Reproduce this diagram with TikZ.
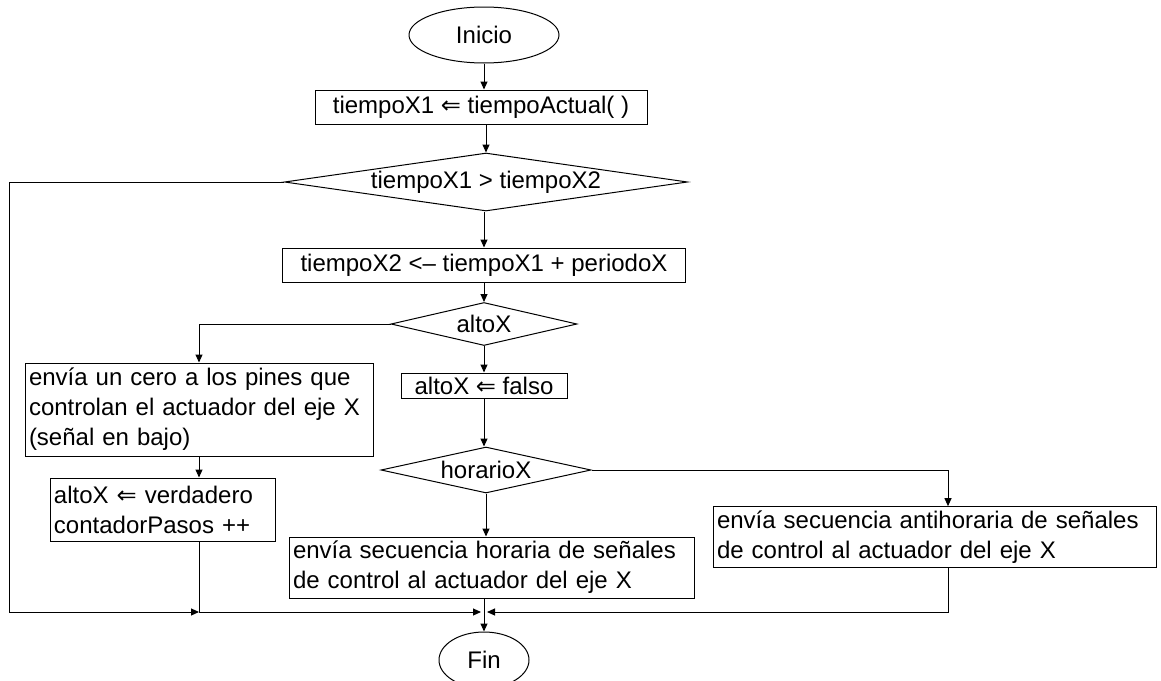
\documentclass[tikz,border=0pt]{standalone}
\usepackage{fontspec}
\setmainfont{Liberation Sans}
\newfontfamily\arrowfont{DejaVu Sans}
\newcommand{\asig}{{\arrowfont ⇐}}
\usetikzlibrary{arrows.meta,shapes.geometric,calc}
\tikzset{>={Triangle[length=4pt,width=3.5pt]},
  base/.style = {
    draw=black, line width=0.5pt, inner sep=2pt,
    font=\fontsize{12}{15}\selectfont
  },
  proc/.style = {base, rectangle},
  decision/.style = {base, diamond, inner sep=0pt},
  terminal/.style = {base, ellipse, inner sep=0pt},
}

\begin{document}
\begin{tikzpicture}[x=0.5pt, y=-0.5pt, line width=0.5pt]
  \useasboundingbox (0,0) rectangle (1161,680);
  \node (inicio) [terminal, minimum width=75pt, minimum height=28pt] at (484,35) {Inicio};
  \node (t1) [proc, minimum width=166pt, minimum height=17pt] at (481,107) {tiempoX1 \asig{} tiempoActual( )};
  \node (d1) [decision, aspect=7, minimum width=201.5pt, minimum height=29pt] at (486,182) {tiempoX1 > tiempoX2};
  \node (t2) [proc, minimum width=201.5pt, minimum height=17pt] at (484,265) {tiempoX2 <-- tiempoX1 + periodoX};
  \node (d2) [decision, aspect=4.3, minimum width=93pt, minimum height=21.5pt] at (484,324) {altoX};
  \node (cero) [proc, minimum width=174pt, minimum height=46.5pt, text width=170pt, align=left] at (199,409.5) {envía un cero a los pines que\\controlan el actuador del eje X\\(señal en bajo)};
  \node (falso) [proc, inner ysep=0.5pt, minimum width=83pt, minimum height=12.5pt] at (484,385.5) {altoX \asig{} falso};
  \node (d3) [decision, aspect=4.6, minimum width=105pt, minimum height=23pt] at (486,470) {horarioX};
  \node (anti) [proc, minimum width=221.5pt, minimum height=30pt, text width=217.5pt, align=left] at (934.5,537) {envía secuencia antihoraria de señales\\de control al actuador del eje X};
  \node (hor) [proc, minimum width=202.5pt, minimum height=30.5pt, text width=198.5pt, align=left] at (491.5,567.5) {envía secuencia horaria de señales\\de control al actuador del eje X};
  \node (verd) [proc, minimum width=112.5pt, minimum height=31.5pt, text width=108.5pt, align=left] at (162.5,509.5) {altoX \asig{} verdadero\\contadorPasos ++};
  \node (fin) [terminal, minimum width=45pt, minimum height=28pt] at (484,660) {Fin};
  \coordinate (jl) at (199,612);
  \coordinate (jm) at (484,612);
  \draw[->] (inicio) -- (inicio.south |- t1.north);
  \draw[->] (t1.south -| d1) -- (d1.north);
  \draw[->] (d1.south -| t2) -- (t2);
  \draw[->] (t2) -- (d2);
  \draw[->] (d2) -- (falso);
  \draw[->] (falso) -- (falso.south |- d3.north);
  \draw[->] (d2.west) -| (cero.north);
  \draw[->] (cero.south) -- (cero.south |- verd.north);
  \draw[->] (d3.east) -| ($(anti.north)+(13.5,0)$);
  \draw[->] (d3.south) -- (d3.south |- hor.north);
  \draw[->] (d1.west) -| (9,612) -- (jl);
  \draw (verd.south -| jl) -- (jl);
  \draw[->] (jl) -- ([xshift=-1.5pt]jm);
  \draw[->] (hor.south -| jm) -- (fin.north);
  \draw[->] ($(anti.south)+(13.5,0)$) |- ([xshift=1.5pt]jm);
\end{tikzpicture}
\end{document}
